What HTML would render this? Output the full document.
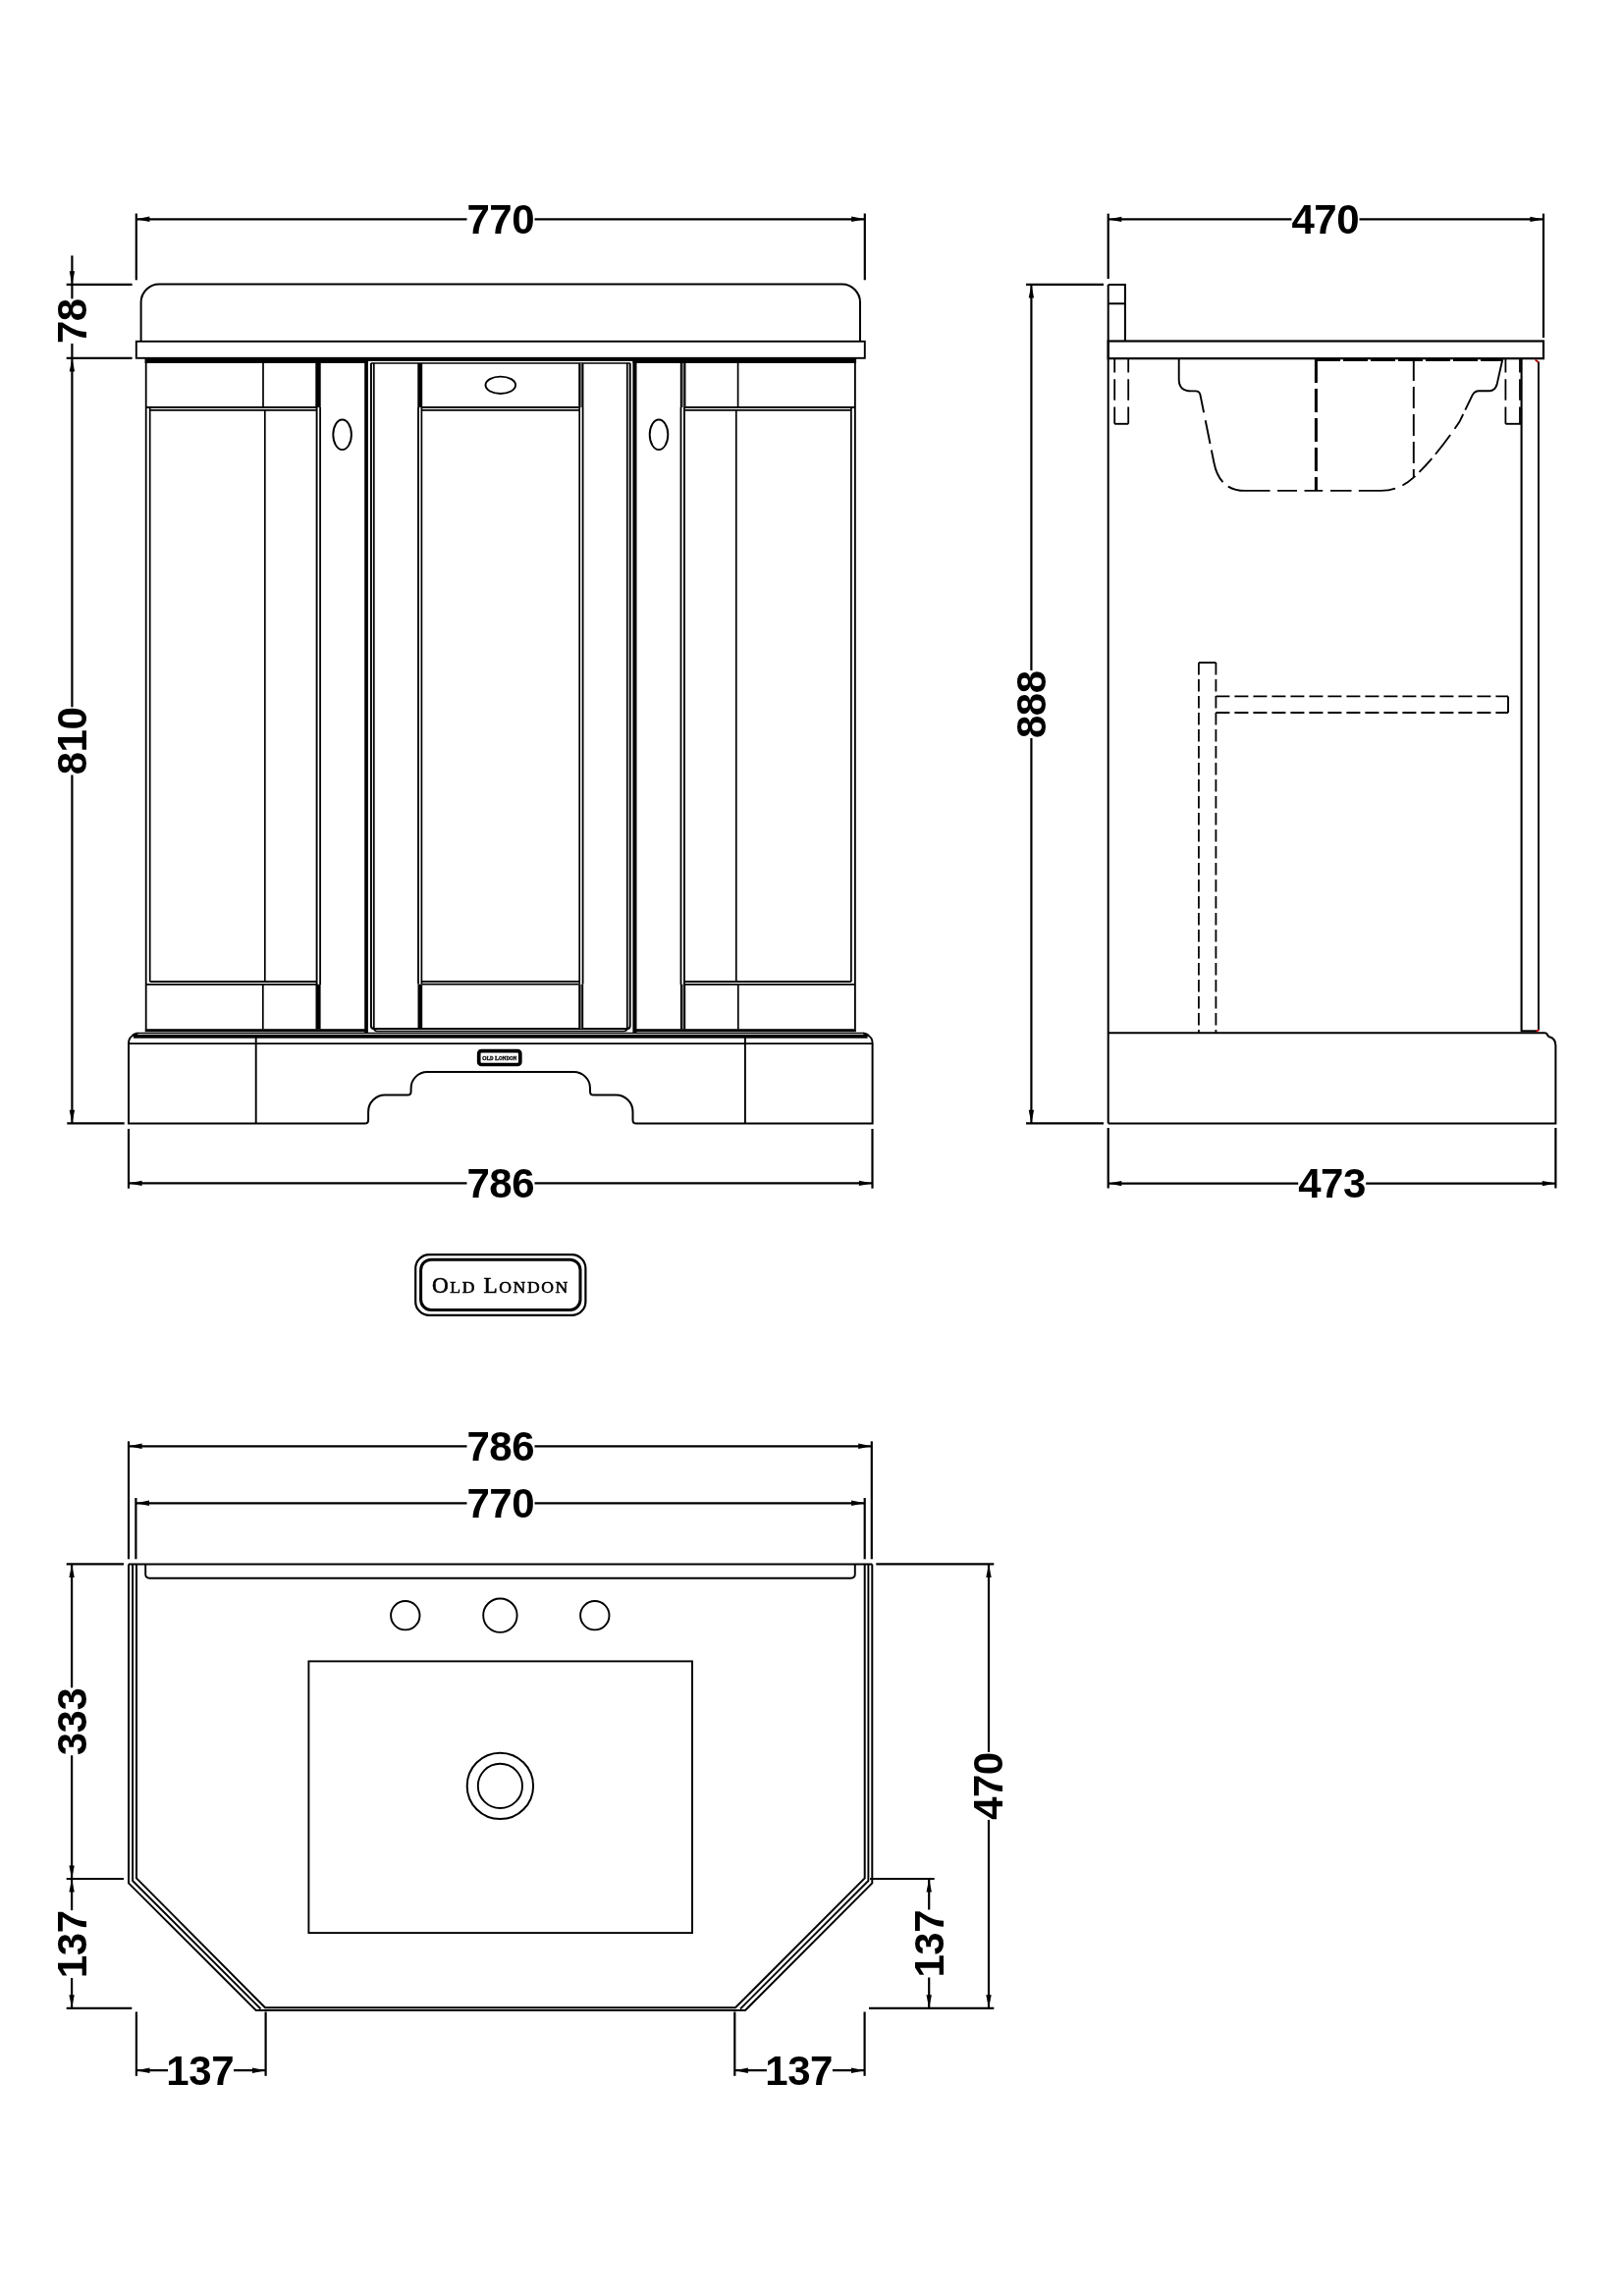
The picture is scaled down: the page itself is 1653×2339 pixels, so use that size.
<!DOCTYPE html>
<html lang="en"><head><meta charset="utf-8"><title>Old London 770 Angled Vanity Unit - Technical Drawing</title>
<style>
html,body{margin:0;padding:0;background:#fff}
body{width:1653px;height:2339px;overflow:hidden}
svg{display:block;will-change:transform}
svg *{vector-effect:none}
.g{fill:none;stroke:#000;stroke-linecap:butt;stroke-linejoin:miter}
.d{font-family:"Liberation Sans",sans-serif;font-weight:700;font-size:42px;letter-spacing:-0.45px;fill:#000;stroke:none}
.s{font-family:"Liberation Serif",serif;font-weight:400;fill:#000;stroke:#000;stroke-width:0.6}
</style></head><body>
<svg width="1653" height="2339" viewBox="0 0 1653 2339">
<rect x="0" y="0" width="1653" height="2339" fill="#fff" stroke="none"/>
<g class="g">
<line x1="138.80" y1="217.50" x2="138.80" y2="285.30" stroke-width="2.2" />
<line x1="880.80" y1="217.50" x2="880.80" y2="285.30" stroke-width="2.2" />
<line x1="138.80" y1="223.30" x2="475.50" y2="223.30" stroke-width="2.2" />
<line x1="544.50" y1="223.30" x2="880.80" y2="223.30" stroke-width="2.2" />
<polygon points="138.80,223.30 152.40,220.60 152.40,226.00" fill="#000" stroke="none"/>
<polygon points="880.80,223.30 867.20,226.00 867.20,220.60" fill="#000" stroke="none"/>
<text x="509.80" y="237.70" text-anchor="middle" class="d">770</text>
<line x1="67.70" y1="289.90" x2="134.60" y2="289.90" stroke-width="2.2" />
<line x1="67.70" y1="364.90" x2="134.60" y2="364.90" stroke-width="2.2" />
<line x1="68.30" y1="1144.40" x2="126.70" y2="1144.40" stroke-width="2.2" />
<line x1="73.40" y1="260.40" x2="73.40" y2="304.30" stroke-width="2.2" />
<polygon points="73.40,289.90 70.70,276.30 76.10,276.30" fill="#000" stroke="none"/>
<line x1="73.40" y1="350.00" x2="73.40" y2="364.90" stroke-width="2.2" />
<text transform="translate(87.80,327.20) rotate(-90)" text-anchor="middle" class="d">78</text>
<line x1="73.40" y1="364.90" x2="73.40" y2="720.30" stroke-width="2.2" />
<line x1="73.40" y1="789.50" x2="73.40" y2="1144.40" stroke-width="2.2" />
<polygon points="73.40,364.90 76.10,378.50 70.70,378.50" fill="#000" stroke="none"/>
<polygon points="73.40,1144.40 70.70,1130.80 76.10,1130.80" fill="#000" stroke="none"/>
<text transform="translate(87.80,755.00) rotate(-90)" text-anchor="middle" class="d">810</text>
<line x1="131.00" y1="1150.00" x2="131.00" y2="1210.70" stroke-width="2.2" />
<line x1="888.50" y1="1150.00" x2="888.50" y2="1210.70" stroke-width="2.2" />
<line x1="131.00" y1="1205.40" x2="475.50" y2="1205.40" stroke-width="2.2" />
<line x1="544.50" y1="1205.40" x2="888.50" y2="1205.40" stroke-width="2.2" />
<polygon points="131.00,1205.40 144.60,1202.70 144.60,1208.10" fill="#000" stroke="none"/>
<polygon points="888.50,1205.40 874.90,1208.10 874.90,1202.70" fill="#000" stroke="none"/>
<text x="509.80" y="1219.80" text-anchor="middle" class="d">786</text>
<path d="M143.6,347.8 V308 a18.5,18.5 0 0 1 18.5,-18.5 H857.50 a18.5,18.5 0 0 1 18.5,18.5 V347.8" stroke-width="2.0" />
<rect x="138.8" y="347.8" width="742.00" height="17" stroke-width="1.9"/>
<rect x="147.50" y="364.40" width="227.50" height="5.60" fill="#000" stroke="none"/>
<rect x="644.60" y="364.40" width="227.50" height="5.60" fill="#000" stroke="none"/>
<rect x="374.50" y="364.40" width="270.60" height="3.50" fill="#000" stroke="none"/>
<line x1="377.80" y1="370.00" x2="641.80" y2="370.00" stroke-width="1.6" />
<line x1="148.70" y1="370.00" x2="148.70" y2="1048.50" stroke-width="1.8" />
<line x1="870.90" y1="370.00" x2="870.90" y2="1048.50" stroke-width="1.8" />
<line x1="152.70" y1="416.00" x2="152.70" y2="1000.00" stroke-width="1.7" />
<line x1="866.90" y1="416.00" x2="866.90" y2="1000.00" stroke-width="1.7" />
<line x1="148.70" y1="415.00" x2="322.00" y2="415.00" stroke-width="1.8" />
<line x1="870.90" y1="415.00" x2="697.60" y2="415.00" stroke-width="1.8" />
<line x1="152.70" y1="417.80" x2="322.50" y2="417.80" stroke-width="1.7" />
<line x1="866.90" y1="417.80" x2="697.10" y2="417.80" stroke-width="1.7" />
<line x1="152.70" y1="1000.00" x2="322.50" y2="1000.00" stroke-width="1.8" />
<line x1="866.90" y1="1000.00" x2="697.10" y2="1000.00" stroke-width="1.8" />
<line x1="148.70" y1="1002.80" x2="322.00" y2="1002.80" stroke-width="1.7" />
<line x1="870.90" y1="1002.80" x2="697.60" y2="1002.80" stroke-width="1.7" />
<line x1="268.00" y1="370.00" x2="268.00" y2="415.00" stroke-width="1.7" />
<line x1="751.60" y1="370.00" x2="751.60" y2="415.00" stroke-width="1.7" />
<line x1="269.80" y1="417.80" x2="269.80" y2="1000.00" stroke-width="1.7" />
<line x1="749.80" y1="417.80" x2="749.80" y2="1000.00" stroke-width="1.7" />
<line x1="267.80" y1="1002.80" x2="267.80" y2="1048.50" stroke-width="1.7" />
<line x1="751.80" y1="1002.80" x2="751.80" y2="1048.50" stroke-width="1.7" />
<rect x="321.30" y="370.00" width="5.40" height="45.00" fill="#000" stroke="none"/>
<rect x="692.90" y="370.00" width="5.40" height="45.00" fill="#777" stroke="none"/>
<line x1="693.70" y1="370.00" x2="693.70" y2="415.00" stroke-width="1.7" />
<line x1="697.50" y1="370.00" x2="697.50" y2="415.00" stroke-width="1.7" />
<rect x="321.50" y="1002.80" width="5.10" height="45.70" fill="#000" stroke="none"/>
<rect x="693.00" y="1002.80" width="5.10" height="45.70" fill="#777" stroke="none"/>
<line x1="693.80" y1="1002.80" x2="693.80" y2="1048.50" stroke-width="1.7" />
<line x1="697.30" y1="1002.80" x2="697.30" y2="1048.50" stroke-width="1.7" />
<line x1="322.60" y1="415.00" x2="322.60" y2="1003.00" stroke-width="1.9" />
<line x1="697.00" y1="415.00" x2="697.00" y2="1003.00" stroke-width="1.9" />
<line x1="326.10" y1="415.00" x2="326.10" y2="1003.00" stroke-width="1.8" />
<line x1="693.50" y1="415.00" x2="693.50" y2="1003.00" stroke-width="1.8" />
<ellipse cx="348.6" cy="442.8" rx="9.3" ry="15.3" stroke-width="1.9"/>
<ellipse cx="671.00" cy="442.8" rx="9.3" ry="15.3" stroke-width="1.9"/>
<ellipse cx="509.8" cy="392.3" rx="15.3" ry="8.7" stroke-width="1.9"/>
<rect x="371.20" y="366.00" width="3.70" height="686.00" fill="#000" stroke="none"/>
<rect x="644.40" y="366.00" width="4.10" height="686.00" fill="#000" stroke="none"/>
<path d="M377.9,370 V1045 q0,3 3,3 H638.70 q3,0 3,-3 V370" stroke-width="2.0" />
<path d="M380.8,370 V1047 q0,3.5 3.5,3.5 H635.30 q3.5,0 3.5,-3.5 V370" stroke-width="1.7" />
<rect x="425.30" y="370.00" width="4.90" height="45.00" fill="#000" stroke="none"/>
<rect x="589.40" y="370.00" width="4.90" height="45.00" fill="#777" stroke="none"/>
<line x1="590.20" y1="370.00" x2="590.20" y2="415.00" stroke-width="1.7" />
<line x1="593.50" y1="370.00" x2="593.50" y2="415.00" stroke-width="1.7" />
<rect x="425.50" y="1002.60" width="4.70" height="45.40" fill="#000" stroke="none"/>
<rect x="589.40" y="1002.60" width="4.70" height="45.40" fill="#777" stroke="none"/>
<line x1="590.20" y1="1002.60" x2="590.20" y2="1048.00" stroke-width="1.7" />
<line x1="593.30" y1="1002.60" x2="593.30" y2="1048.00" stroke-width="1.7" />
<line x1="426.00" y1="415.00" x2="426.00" y2="1002.60" stroke-width="1.8" />
<line x1="593.60" y1="415.00" x2="593.60" y2="1002.60" stroke-width="1.8" />
<line x1="429.40" y1="415.00" x2="429.40" y2="1002.60" stroke-width="1.7" />
<line x1="590.20" y1="415.00" x2="590.20" y2="1002.60" stroke-width="1.7" />
<line x1="430.00" y1="415.00" x2="589.60" y2="415.00" stroke-width="1.8" />
<line x1="429.40" y1="417.90" x2="590.20" y2="417.90" stroke-width="1.7" />
<line x1="429.40" y1="999.80" x2="590.20" y2="999.80" stroke-width="1.8" />
<line x1="430.00" y1="1002.60" x2="589.60" y2="1002.60" stroke-width="1.7" />
<rect x="147.70" y="1048.20" width="224.30" height="3.00" fill="#000" stroke="none"/>
<rect x="647.60" y="1048.20" width="224.30" height="3.00" fill="#000" stroke="none"/>
<line x1="140.00" y1="1052.40" x2="879.60" y2="1052.40" stroke-width="1.3" />
<rect x="136.00" y="1053.80" width="747.60" height="3.90" fill="#000" stroke="none"/>
<path d="M140.5,1052.4 Q136,1053 134.5,1055.5 Q131,1057.5 131,1063 V1144.5 H371.5 q3.6,0 3.6,-3.6 V1132.6 a17,17 0 0 1 17,-17 H415 q3.6,0 3.6,-3.6 V1108.6 a16.6,16.6 0 0 1 16.6,-16.6 H584.40 a16.6,16.6 0 0 1 16.6,16.6 V1111.9 q0,3.6 3.6,3.6 H627.50 a17,17 0 0 1 17,17 V1140.9 q0,3.6 3.6,3.6 H888.60 V1063 Q888.60,1057.5 885.10,1055.5 Q883.60,1053 879.10,1052.4" stroke-width="2.0" />
<line x1="131.00" y1="1063.10" x2="888.60" y2="1063.10" stroke-width="1.8" />
<line x1="260.70" y1="1054.00" x2="260.70" y2="1144.50" stroke-width="1.9" />
<line x1="758.90" y1="1054.00" x2="758.90" y2="1144.50" stroke-width="1.9" />
<rect x="487.7" y="1070.6" width="42.1" height="13.9" rx="2.6" stroke-width="3.7"/>
<text x="491" y="1080" class="s" style="font-weight:700;stroke-width:0.3" font-size="6.4" textLength="35.2" lengthAdjust="spacingAndGlyphs">O<tspan font-size="5.1">LD</tspan> L<tspan font-size="5.1">ONDON</tspan></text>
<rect x="423.2" y="1278.2" width="173.2" height="61.7" rx="14" stroke-width="2.2"/>
<rect x="428.6" y="1283.2" width="162.4" height="51.3" rx="10.5" stroke-width="3"/>
<text x="440" y="1317" class="s" font-size="23.2" textLength="138.3" lengthAdjust="spacing">O<tspan font-size="17.6">LD</tspan> L<tspan font-size="17.6">ONDON</tspan></text>
<line x1="1128.70" y1="217.60" x2="1128.70" y2="284.00" stroke-width="2.2" />
<line x1="1572.00" y1="217.60" x2="1572.00" y2="344.00" stroke-width="2.2" />
<line x1="1128.70" y1="223.40" x2="1315.50" y2="223.40" stroke-width="2.2" />
<line x1="1384.50" y1="223.40" x2="1572.00" y2="223.40" stroke-width="2.2" />
<polygon points="1128.70,223.40 1142.30,220.70 1142.30,226.10" fill="#000" stroke="none"/>
<polygon points="1572.00,223.40 1558.40,226.10 1558.40,220.70" fill="#000" stroke="none"/>
<text x="1349.80" y="237.80" text-anchor="middle" class="d">470</text>
<line x1="1045.00" y1="289.90" x2="1124.00" y2="289.90" stroke-width="2.2" />
<line x1="1045.00" y1="1144.40" x2="1124.00" y2="1144.40" stroke-width="2.2" />
<line x1="1050.40" y1="289.90" x2="1050.40" y2="683.00" stroke-width="2.2" />
<line x1="1050.40" y1="752.00" x2="1050.40" y2="1144.40" stroke-width="2.2" />
<polygon points="1050.40,289.90 1053.10,303.50 1047.70,303.50" fill="#000" stroke="none"/>
<polygon points="1050.40,1144.40 1047.70,1130.80 1053.10,1130.80" fill="#000" stroke="none"/>
<text transform="translate(1064.80,717.70) rotate(-90)" text-anchor="middle" class="d">888</text>
<line x1="1128.70" y1="1149.00" x2="1128.70" y2="1210.50" stroke-width="2.2" />
<line x1="1584.40" y1="1149.00" x2="1584.40" y2="1210.50" stroke-width="2.2" />
<line x1="1128.70" y1="1205.60" x2="1322.20" y2="1205.60" stroke-width="2.2" />
<line x1="1391.20" y1="1205.60" x2="1584.40" y2="1205.60" stroke-width="2.2" />
<polygon points="1128.70,1205.60 1142.30,1202.90 1142.30,1208.30" fill="#000" stroke="none"/>
<polygon points="1584.40,1205.60 1570.80,1208.30 1570.80,1202.90" fill="#000" stroke="none"/>
<text x="1356.50" y="1220.00" text-anchor="middle" class="d">473</text>
<line x1="1128.70" y1="289.90" x2="1128.70" y2="1144.50" stroke-width="2.0" />
<path d="M1128.7,289.9 H1145.9 V347.5" stroke-width="2.0" />
<line x1="1128.70" y1="309.30" x2="1145.90" y2="309.30" stroke-width="2.0" />
<rect x="1128.7" y="347.5" width="443.3" height="17.7" stroke-width="2.2"/>
<line x1="1549.60" y1="365.00" x2="1549.60" y2="1051.00" stroke-width="2.1" />
<line x1="1567.00" y1="368.50" x2="1567.00" y2="1049.50" stroke-width="1.9" />
<line x1="1549.60" y1="1050.30" x2="1565.00" y2="1050.30" stroke-width="2.0" />
<path d="M1128.7,1052.2 H1573 Q1575.5,1052.2 1575.9,1054 Q1576.2,1055.6 1578,1056.2 Q1584.4,1058 1584.4,1065 V1144.5 H1128.7" stroke-width="2.0" />
<path d="M1564.6,1051 L1567.5,1048.7" stroke="#b40000" stroke-width="1.8"/>
<path d="M1563.6,366.4 L1567,369.3" stroke="#b40000" stroke-width="1.8"/>
<line x1="1135.20" y1="366.00" x2="1135.20" y2="431.80" stroke-width="1.8" stroke-dasharray="21.5 6.7" stroke-dashoffset="8"/>
<line x1="1149.20" y1="366.00" x2="1149.20" y2="431.80" stroke-width="1.8" stroke-dasharray="21.5 6.7" stroke-dashoffset="8"/>
<line x1="1135.20" y1="431.80" x2="1149.20" y2="431.80" stroke-width="1.9" />
<line x1="1533.40" y1="366.00" x2="1533.40" y2="431.80" stroke-width="1.8" stroke-dasharray="21.5 6.7" stroke-dashoffset="8"/>
<line x1="1548.00" y1="366.00" x2="1548.00" y2="431.80" stroke-width="1.8" stroke-dasharray="21.5 6.7" stroke-dashoffset="8"/>
<line x1="1533.40" y1="431.80" x2="1549.00" y2="431.80" stroke-width="1.9" />
<path d="M1200.7,365.2 V386.5 Q1200.7,398.4 1213.2,398.4 H1217.5 Q1221.5,398.4 1222.4,402 L1236.4,471.3 Q1242,499.9 1268,499.9 H1406.5 Q1425,499.9 1439.8,486.4 Q1462,466 1486.4,429.8 L1499.7,402.4 Q1501.8,398.2 1506.3,398.2 H1517 Q1522.6,398.2 1524.6,391.6 L1530.5,365.3" stroke-width="1.9" stroke-dasharray="70.4 8.2 24.2 6.7 35 7 43.3 7.5 20 7.5 18.7 7.8 21.5 7.3 37.5 8 16.2 5.9 18.8 5.5 25 7.7 17 4.8 80 0"/>
<line x1="1340.40" y1="366.00" x2="1340.40" y2="499.90" stroke-width="3" stroke-dasharray="24 6"/>
<line x1="1439.80" y1="366.00" x2="1439.80" y2="486.00" stroke-width="1.9" stroke-dasharray="22 6"/>
<line x1="1340.00" y1="366.60" x2="1530.00" y2="366.60" stroke-width="2.6" stroke-dasharray="25 3"/>
<line x1="1220.90" y1="675.00" x2="1220.90" y2="1052.00" stroke-width="1.8" stroke-dasharray="12.5 4.5"/>
<line x1="1238.40" y1="675.00" x2="1238.40" y2="1052.00" stroke-width="1.8" stroke-dasharray="12.5 4.5"/>
<line x1="1220.90" y1="675.00" x2="1238.40" y2="675.00" stroke-width="1.9" />
<line x1="1238.40" y1="709.40" x2="1536.00" y2="709.40" stroke-width="1.8" stroke-dasharray="14 5"/>
<line x1="1238.40" y1="726.00" x2="1536.00" y2="726.00" stroke-width="1.8" stroke-dasharray="14 5"/>
<line x1="1536.00" y1="709.40" x2="1536.00" y2="726.00" stroke-width="1.9" />
<line x1="131.00" y1="1468.30" x2="131.00" y2="1588.30" stroke-width="2.2" />
<line x1="887.80" y1="1468.30" x2="887.80" y2="1588.30" stroke-width="2.2" />
<line x1="131.00" y1="1473.30" x2="475.50" y2="1473.30" stroke-width="2.2" />
<line x1="544.50" y1="1473.30" x2="887.80" y2="1473.30" stroke-width="2.2" />
<polygon points="131.00,1473.30 144.60,1470.60 144.60,1476.00" fill="#000" stroke="none"/>
<polygon points="887.80,1473.30 874.20,1476.00 874.20,1470.60" fill="#000" stroke="none"/>
<text x="509.80" y="1487.70" text-anchor="middle" class="d">786</text>
<line x1="138.40" y1="1526.00" x2="138.40" y2="1588.30" stroke-width="2.2" />
<line x1="880.70" y1="1526.00" x2="880.70" y2="1588.30" stroke-width="2.2" />
<line x1="138.40" y1="1531.30" x2="475.50" y2="1531.30" stroke-width="2.2" />
<line x1="544.50" y1="1531.30" x2="880.70" y2="1531.30" stroke-width="2.2" />
<polygon points="138.40,1531.30 152.00,1528.60 152.00,1534.00" fill="#000" stroke="none"/>
<polygon points="880.70,1531.30 867.10,1534.00 867.10,1528.60" fill="#000" stroke="none"/>
<text x="509.80" y="1545.70" text-anchor="middle" class="d">770</text>
<line x1="67.70" y1="1593.40" x2="126.00" y2="1593.40" stroke-width="2.2" />
<line x1="67.70" y1="1914.00" x2="126.00" y2="1914.00" stroke-width="2.2" />
<line x1="67.70" y1="2045.80" x2="134.30" y2="2045.80" stroke-width="2.2" />
<line x1="73.10" y1="1593.40" x2="73.10" y2="1719.30" stroke-width="2.2" />
<line x1="73.10" y1="1788.30" x2="73.10" y2="1914.00" stroke-width="2.2" />
<polygon points="73.10,1593.40 75.80,1607.00 70.40,1607.00" fill="#000" stroke="none"/>
<polygon points="73.10,1914.00 70.40,1900.40 75.80,1900.40" fill="#000" stroke="none"/>
<text transform="translate(87.50,1754.00) rotate(-90)" text-anchor="middle" class="d">333</text>
<line x1="73.10" y1="1914.00" x2="73.10" y2="1946.10" stroke-width="2.2" />
<line x1="73.10" y1="2015.10" x2="73.10" y2="2045.80" stroke-width="2.2" />
<polygon points="73.10,1914.00 75.80,1927.60 70.40,1927.60" fill="#000" stroke="none"/>
<polygon points="73.10,2045.80 70.40,2032.20 75.80,2032.20" fill="#000" stroke="none"/>
<text transform="translate(87.50,1980.80) rotate(-90)" text-anchor="middle" class="d">137</text>
<line x1="892.30" y1="1593.40" x2="1012.30" y2="1593.40" stroke-width="2.2" />
<line x1="886.00" y1="1914.00" x2="951.70" y2="1914.00" stroke-width="2.2" />
<line x1="885.00" y1="2045.80" x2="1012.30" y2="2045.80" stroke-width="2.2" />
<line x1="1007.00" y1="1593.40" x2="1007.00" y2="1784.90" stroke-width="2.2" />
<line x1="1007.00" y1="1853.90" x2="1007.00" y2="2045.80" stroke-width="2.2" />
<polygon points="1007.00,1593.40 1009.70,1607.00 1004.30,1607.00" fill="#000" stroke="none"/>
<polygon points="1007.00,2045.80 1004.30,2032.20 1009.70,2032.20" fill="#000" stroke="none"/>
<text transform="translate(1021.40,1819.60) rotate(-90)" text-anchor="middle" class="d">470</text>
<line x1="946.20" y1="1914.00" x2="946.20" y2="1945.50" stroke-width="2.2" />
<line x1="946.20" y1="2014.50" x2="946.20" y2="2045.80" stroke-width="2.2" />
<polygon points="946.20,1914.00 948.90,1927.60 943.50,1927.60" fill="#000" stroke="none"/>
<polygon points="946.20,2045.80 943.50,2032.20 948.90,2032.20" fill="#000" stroke="none"/>
<text transform="translate(960.60,1980.20) rotate(-90)" text-anchor="middle" class="d">137</text>
<line x1="138.90" y1="2049.50" x2="138.90" y2="2114.80" stroke-width="2.2" />
<line x1="270.60" y1="2049.50" x2="270.60" y2="2114.80" stroke-width="2.2" />
<line x1="138.90" y1="2109.20" x2="171.00" y2="2109.20" stroke-width="2.2" />
<line x1="238.00" y1="2109.20" x2="270.60" y2="2109.20" stroke-width="2.2" />
<polygon points="138.90,2109.20 152.50,2106.50 152.50,2111.90" fill="#000" stroke="none"/>
<polygon points="270.60,2109.20 257.00,2111.90 257.00,2106.50" fill="#000" stroke="none"/>
<text x="203.70" y="2123.60" text-anchor="middle" class="d">137</text>
<line x1="748.30" y1="2049.50" x2="748.30" y2="2114.80" stroke-width="2.2" />
<line x1="880.60" y1="2049.50" x2="880.60" y2="2114.80" stroke-width="2.2" />
<line x1="748.30" y1="2109.20" x2="780.90" y2="2109.20" stroke-width="2.2" />
<line x1="847.90" y1="2109.20" x2="880.60" y2="2109.20" stroke-width="2.2" />
<polygon points="748.30,2109.20 761.90,2106.50 761.90,2111.90" fill="#000" stroke="none"/>
<polygon points="880.60,2109.20 867.00,2111.90 867.00,2106.50" fill="#000" stroke="none"/>
<text x="813.60" y="2123.60" text-anchor="middle" class="d">137</text>
<path d="M131,1593.4 V1918.4 L260.7,2048 H759 L888.3,1918.4 V1593.4" stroke-width="2.0" />
<path d="M135.1,1593.4 V1916 L265.5,2046.5 " stroke-width="1.9" />
<path d="M884.4,1593.4 V1916 L754,2046.5" stroke-width="1.9" />
<path d="M139,1593.4 V1913.4 L270,2045.3 H749 L880.7,1913.4 V1593.4" stroke-width="2.0" />
<line x1="131.00" y1="1593.40" x2="888.30" y2="1593.40" stroke-width="2.0" />
<path d="M148.2,1593.4 V1603.5 q0,4.2 4.2,4.2 H866.6 q4.2,0 4.2,-4.2 V1593.4" stroke-width="1.9" />
<circle cx="412.8" cy="1645.7" r="14.7" stroke-width="1.9"/>
<circle cx="509.4" cy="1645.7" r="17.2" stroke-width="1.9"/>
<circle cx="605.8" cy="1645.7" r="14.7" stroke-width="1.9"/>
<rect x="314.4" y="1692.4" width="390.6" height="276.7" stroke-width="1.9"/>
<circle cx="509.4" cy="1819.4" r="33.7" stroke-width="2"/>
<circle cx="509.4" cy="1819.4" r="22.6" stroke-width="1.9"/>
</g>
</svg>
</body></html>
